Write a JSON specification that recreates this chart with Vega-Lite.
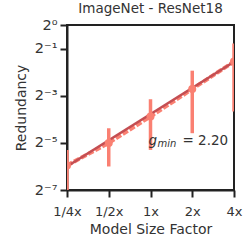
{
  "$schema": "https://vega.github.io/schema/vega-lite/v6.json",
  "autosize": {"type": "none"},
  "padding": {"left": 67, "top": 25, "right": 16, "bottom": 55},
  "width": 167,
  "height": 165,
  "background": "white",
  "config": {
    "font": "DejaVu Sans",
    "view": {"stroke": "#222222", "strokeWidth": 2},
    "axis": {
      "grid": false,
      "domainColor": "#222222",
      "domainWidth": 2,
      "tickColor": "#222222",
      "tickWidth": 2,
      "tickSize": 7,
      "labelFlush": false,
      "labelFont": "DejaVu Sans",
      "labelFontSize": 13,
      "labelColor": "#333333",
      "titleFont": "DejaVu Sans",
      "titleFontSize": 14,
      "titleFontWeight": "normal",
      "titleColor": "#333333"
    },
    "title": {"font": "DejaVu Sans", "fontSize": 13.5, "fontWeight": "normal", "color": "#333333", "offset": 2}
  },
  "title": "ImageNet - ResNet18",
  "datasets": {
    "pts": [
      {"factor": 0.25, "mean": 0.0161, "lo": 0.0055, "hi": 0.0254},
      {"factor": 0.5, "mean": 0.0312, "lo": 0.0156, "hi": 0.048},
      {"factor": 1, "mean": 0.068, "lo": 0.0254, "hi": 0.1127},
      {"factor": 2, "mean": 0.152, "lo": 0.0415, "hi": 0.261},
      {"factor": 4, "mean": 0.341, "lo": 0.0786, "hi": 0.582}
    ],
    "fit": [
      {"factor": 0.25, "value": 0.0156},
      {"factor": 4, "value": 0.34}
    ],
    "ann": [
      {"factor": 1, "value": 0.029, "g": "g", "sub": "min", "rest": "= 2.20"}
    ]
  },
  "layer": [
    {
      "data": {"name": "pts"},
      "mark": {"type": "line", "color": "#fa8072", "strokeWidth": 4, "strokeDash": [6, 2], "clip": true},
      "encoding": {
        "x": {"field": "factor", "type": "quantitative",
          "scale": {"type": "log", "base": 2, "domain": [0.25, 4], "nice": false},
          "axis": {"values": [0.25, 0.5, 1, 2, 4], "labelExpr": "datum.value == 0.25 ? '1/4x' : datum.value == 0.5 ? '1/2x' : datum.value + 'x'", "title": "Model Size Factor", "labelPadding": 8, "titlePadding": 4}},
        "y": {"field": "mean", "type": "quantitative",
          "scale": {"type": "log", "base": 2, "domain": [0.0078125, 1], "nice": false},
          "axis": {"values": [1, 0.5, 0.125, 0.03125, 0.0078125], "labelExpr": "datum.value == 1 ? '2⁰' : datum.value == 0.5 ? '2⁻¹' : datum.value == 0.125 ? '2⁻³' : datum.value == 0.03125 ? '2⁻⁵' : '2⁻⁷'", "labelFontSize": 14.5, "title": "Redundancy", "labelPadding": 3, "titlePadding": 6}}
      }
    },
    {
      "data": {"name": "fit"},
      "mark": {"type": "line", "color": "#c44e52", "strokeWidth": 2.5, "clip": true},
      "encoding": {
        "x": {"field": "factor", "type": "quantitative"},
        "y": {"field": "value", "type": "quantitative"}
      }
    },
    {
      "data": {"name": "pts"},
      "mark": {"type": "rule", "color": "#fa8072", "strokeWidth": 3.5, "clip": true},
      "encoding": {
        "x": {"field": "factor", "type": "quantitative"},
        "y": {"field": "lo", "type": "quantitative"},
        "y2": {"field": "hi"}
      }
    },
    {
      "data": {"name": "pts"},
      "mark": {"type": "point", "filled": true, "opacity": 1, "color": "#fa8072", "size": 65, "clip": true},
      "encoding": {
        "x": {"field": "factor", "type": "quantitative"},
        "y": {"field": "mean", "type": "quantitative"}
      }
    },
    {
      "data": {"name": "ann"},
      "mark": {"type": "text", "align": "left", "baseline": "alphabetic", "fontSize": 13.5, "fontStyle": "italic", "color": "#333333", "dx": -2},
      "encoding": {
        "x": {"field": "factor", "type": "quantitative"},
        "y": {"field": "value", "type": "quantitative"},
        "text": {"field": "g"}
      }
    },
    {
      "data": {"name": "ann"},
      "mark": {"type": "text", "align": "left", "baseline": "alphabetic", "fontSize": 10, "fontStyle": "italic", "color": "#333333", "dx": 7, "dy": 2},
      "encoding": {
        "x": {"field": "factor", "type": "quantitative"},
        "y": {"field": "value", "type": "quantitative"},
        "text": {"field": "sub"}
      }
    },
    {
      "data": {"name": "ann"},
      "mark": {"type": "text", "align": "left", "baseline": "alphabetic", "fontSize": 13.5, "color": "#333333", "dx": 32},
      "encoding": {
        "x": {"field": "factor", "type": "quantitative"},
        "y": {"field": "value", "type": "quantitative"},
        "text": {"field": "rest"}
      }
    }
  ]
}
